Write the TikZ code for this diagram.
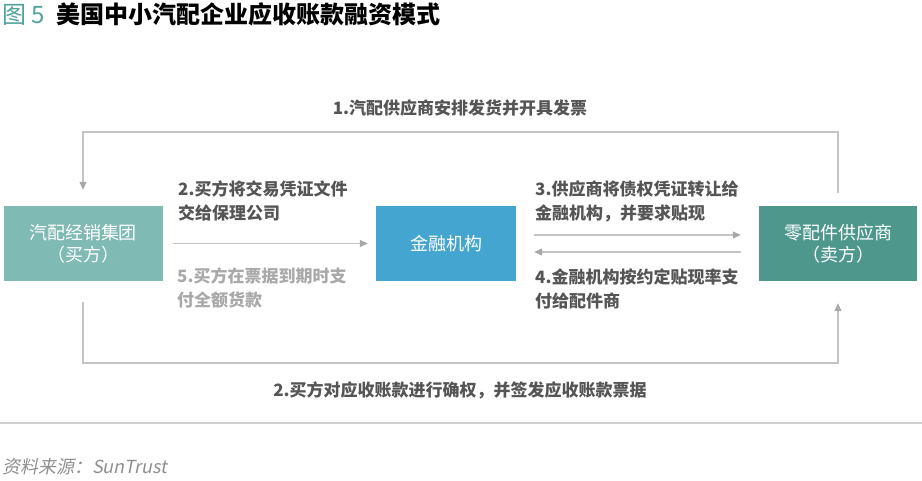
\documentclass[tikz,border=0pt]{standalone}
\usepackage{fontspec}
\setmainfont{Noto Sans CJK SC}
\newfontfamily\srcfont[FakeSlant=0.2]{Noto Sans CJK SC}
\usetikzlibrary{arrows.meta}
\definecolor{titlec}{HTML}{4FA39B}
\definecolor{buyc}{HTML}{7FBAB5}
\definecolor{bankc}{HTML}{44A5D1}
\definecolor{sellc}{HTML}{4E978C}
\definecolor{linec}{HTML}{C4C4C4}
\definecolor{tipc}{HTML}{A8A8A8}
\definecolor{lblc}{HTML}{555555}
\definecolor{lightc}{HTML}{A9A9A9}
\definecolor{sepc}{HTML}{D0D0D0}
\definecolor{srcc}{HTML}{8F8F8F}
\begin{document}
\begin{tikzpicture}[x=1pt,y=-1pt,
  box/.style={draw=none, minimum height=75pt, inner sep=0pt, align=center, text=white,
    font=\fontsize{18}{22}\selectfont},
  lbl/.style={inner sep=0pt, align=left, text=lblc, font=\fontsize{17}{24}\selectfont\bfseries},
  lbllight/.style={lbl, text=lightc},
  conn/.style={draw=linec, line width=1.3pt},
  arr/.style={conn, -{Triangle[length=8pt,width=7pt,color=tipc]}}
]
\useasboundingbox (0,0) rectangle (922,480);

% title
\node[anchor=west, inner sep=0pt, font=\fontsize{24}{28}\selectfont] (title) at (2,14)
  {{\color{titlec}图 5}\hspace{12pt}\textbf{美国中小汽配企业应收账款融资模式}};

% boxes
\node[box, fill=buyc, minimum width=159pt] (L) at (83,243.5) {汽配经销集团\\（买方）};
\node[box, fill=bankc, minimum width=140pt] (M) at (446,243.5) {金融机构};
\node[box, fill=sellc, minimum width=158pt] (R) at (838,243.5) {零配件供应商\\（卖方）};

% labels
\node[lbl, align=center] (t1) at (460,108) {1.汽配供应商安排发货并开具发票};
\node[lbl, anchor=west] (t2) at (178,201) {2.买方将交易凭证文件\\交给保理公司};
\node[lbllight, anchor=west] (t5) at (177,288) {5.买方在票据到期时支\\付全额货款};
\node[lbl, anchor=west] (t3) at (535,201) {3.供应商将债权凭证转让给\\金融机构，并要求贴现};
\node[lbl, anchor=west] (t4) at (535,289) {4.金融机构按约定贴现率支\\付给配件商};
\node[lbl, align=center] (t6) at (460,390) {2.买方对应收账款进行确权，并签发应收账款票据};

% connectors
\coordinate (tl) at (83,132);
\coordinate (tr) at (838,132);
\coordinate (bl) at (83,363);
\coordinate (br) at (838,363);
\draw[arr, shorten <=13pt, shorten >=16pt] (R.north) -- (tr) -- (tl) -- (L.north);
\draw[arr, shorten <=21pt, shorten >=22pt] (L.south) -- (bl) -- (br) -- (R.south);
\draw[arr, shorten <=10pt, shorten >=8pt] (L.east) -- (M.west);
\draw[arr, shorten <=18pt, shorten >=18pt] ([yshift=8.5pt]M.east) -- ([yshift=8.5pt]R.west);
\draw[arr, shorten <=18pt, shorten >=18pt] ([yshift=-8.5pt]R.west) -- ([yshift=-8.5pt]M.east);

% separator and source
\draw[draw=sepc, line width=1.5pt] (0,423) -- (922,423);
\node[anchor=west, inner sep=0pt, text=srcc, font=\fontsize{18}{22}\srcfont] (src) at (2,467) {资料来源：SunTrust};
\end{tikzpicture}
\end{document}
